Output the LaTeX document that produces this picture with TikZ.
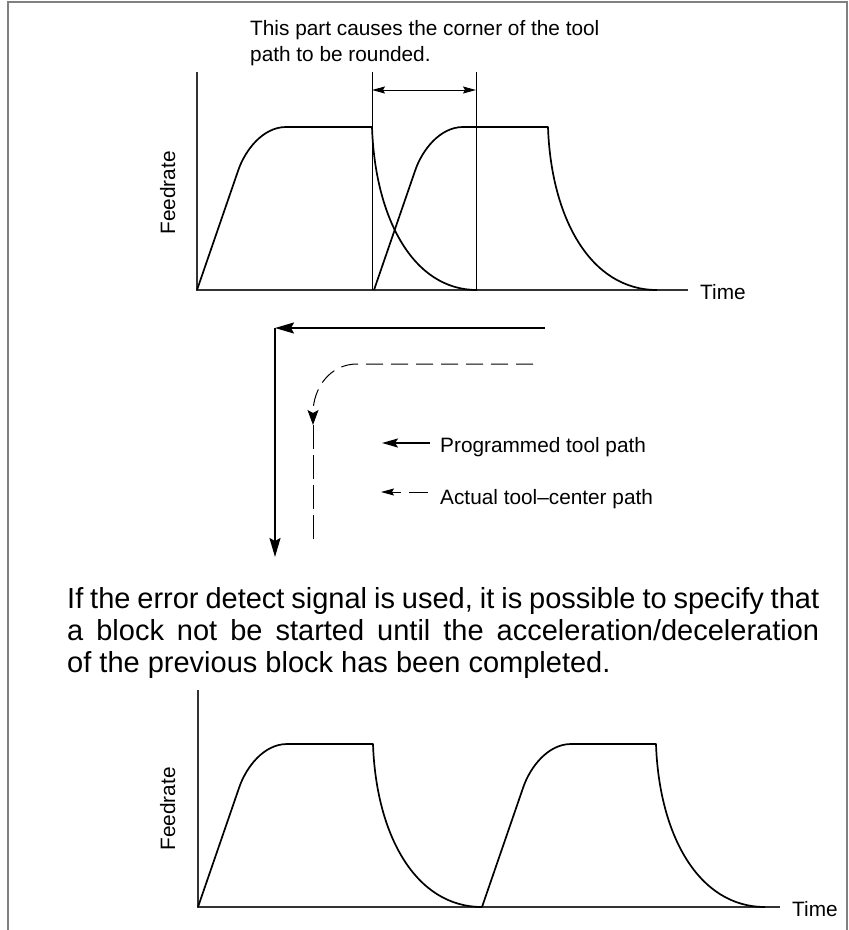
\documentclass[tikz,border=0pt]{standalone}
\usepackage{fontspec}
\setmainfont{Liberation Sans}
\usetikzlibrary{arrows.meta}
\tikzset{
  ax/.style    ={line width=1.1pt,black!80},
  guide/.style ={line width=1pt},
  prof/.style  ={line width=1.7pt,line join=round},
  iso/.style   ={{Stealth[length=13pt,width=7pt,inset=2pt]}-{Stealth[length=13pt,width=7pt,inset=2pt]},line width=1pt},
  prog/.style  ={-{Stealth[length=19pt,width=11pt,inset=3pt]},line width=2pt},
  act/.style   ={-{Stealth[length=15pt,width=11pt,inset=3pt]},line width=1pt,dash pattern=on 17pt off 8pt},
  lbl/.style   ={font=\fontsize{20.8}{25.6}\selectfont,inner sep=0pt},
  body/.style  ={font=\fontsize{29}{32}\selectfont,inner sep=0pt,text width=752pt,align=justify},
  frame/.style ={line width=2pt,black!50},
}
\begin{document}
\begin{tikzpicture}[x=1pt,y=-1pt]
  \useasboundingbox (0,0) rectangle (849,930);
  \draw[frame] (8,930) -- (8,2) -- (847,2) -- (847,930);

  % upper chart: next block starts while the previous one decelerates
  \node[lbl,anchor=north west,align=left] (note) at (250,20.3)
    {This part causes the corner of the tool\\path to be rounded.};
  \coordinate (o1) at (197,290);
  \draw[ax] (197,72) -- (o1) -- (688,290);
  \draw[guide] (372,72) -- (372,290) (476,72) -- (476,290);
  \coordinate (g1) at (372,90); \coordinate (g2) at (476,90);
  \draw[iso] (g1) -- (g2);
  \node[lbl,rotate=90,anchor=base] (fr1) at (175,193) {Feedrate};
  \node[lbl,anchor=base west] (t1) at (700,299.5) {Time};

  % tool paths
  \coordinate (pa) at (545,328); \coordinate (pc) at (275,328); \coordinate (pb) at (275,557);
  \draw[prog] (pa) -- (pc);
  \draw[prog] (pc) -- (pb);
  \coordinate (da) at (533,364); \coordinate (db) at (357,364);
  \coordinate (dc) at (313,425); \coordinate (dd) at (313,543);
  \draw[act] (da) -- (db) .. controls (330,364) and (313,388) .. (dc);
  \draw[act,-,dash pattern=on 24pt off 6pt] (dc) -- (dd);

  % legend
  \coordinate (lp1) at (430,443); \coordinate (lp2) at (382,443);
  \draw[-{Stealth[length=16pt,width=9pt,inset=3pt]},line width=1.8pt] (lp1) -- (lp2);
  \node[lbl,anchor=base west] (lp) at (440,452) {Programmed tool path};
  \coordinate (la1) at (428,492); \coordinate (la2) at (381,492);
  \draw[-{Stealth[length=13pt,width=7pt,inset=2pt]},line width=1pt,dash pattern=on 19pt off 8pt] (la1) -- (la2);
  \node[lbl,anchor=base west] (la) at (440,504) {Actual tool--center path};

  \node[body,anchor=north west] (txt) at (67,587)
    {\spaceskip=0.278em plus 0.2em minus 0.12em
     If the error detect signal is used, it is possible to specify that\linebreak
     a block not be started until the acceleration/deceleration\linebreak
     of the previous block has been completed.};

  % lower chart: blocks one after another
  \coordinate (o2) at (198,907);
  \draw[ax] (198,690) -- (o2) -- (780,907);
  \node[lbl,rotate=90,anchor=base] (fr2) at (175,809) {Feedrate};
  \node[lbl,anchor=base west] (t2) at (792,916.5) {Time};

  \foreach \a/\b/\w/\y in {197/372/105/290,374/548/109/290,198/373/109/907,482/656/109/907}
    \draw[prof] (\a,\y) -- (\a+41,\y-119) .. controls (\a+48,\y-140) and (\a+66,\y-163)
      .. (\a+89,\y-163) -- (\b,\y-163) .. controls (\b+3,\y-73) and (\b+0.385*\w,\y) .. (\b+\w,\y);
\end{tikzpicture}
\end{document}
